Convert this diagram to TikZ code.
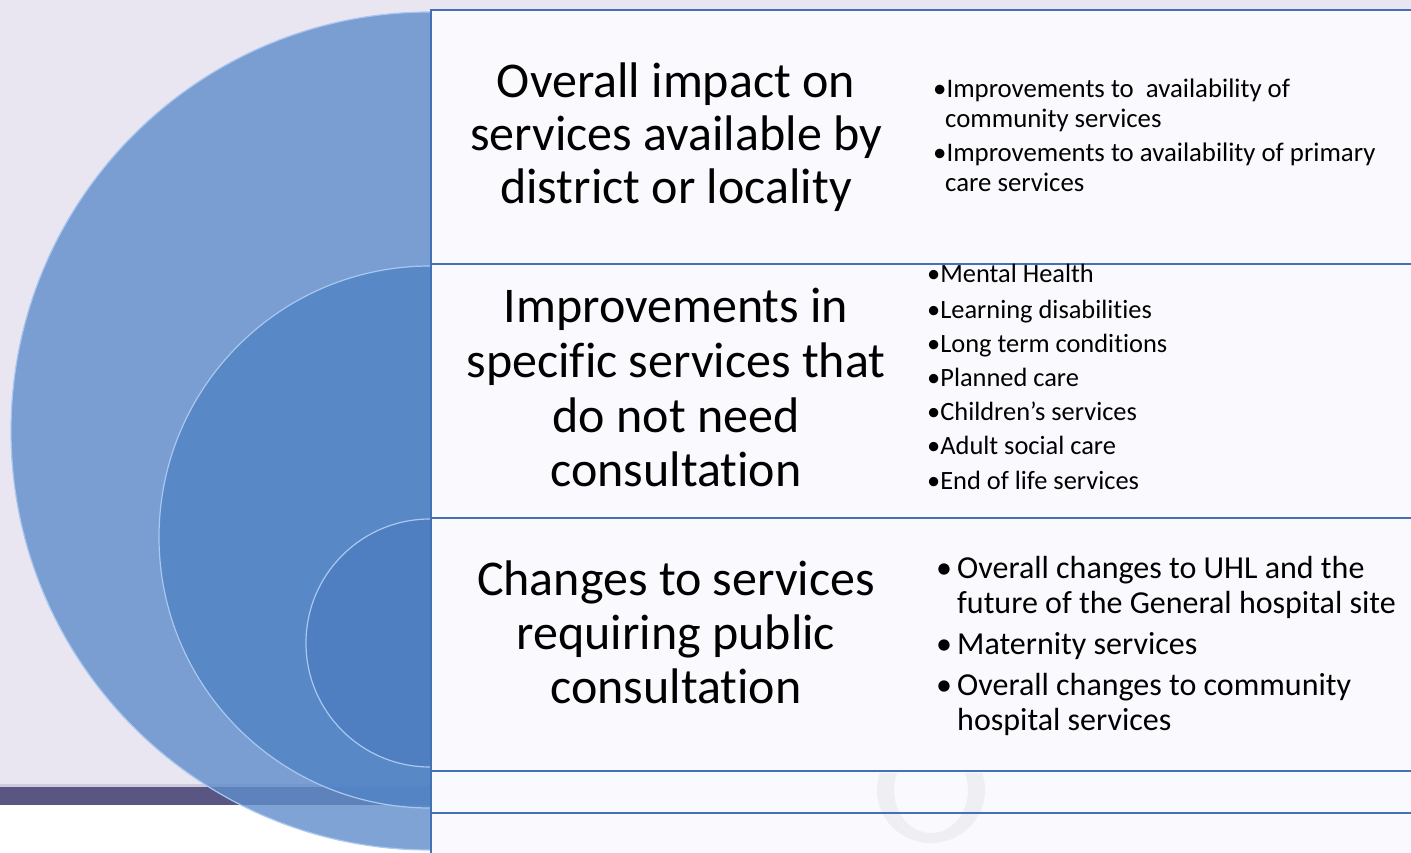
\documentclass[tikz,border=0pt]{standalone}
\usepackage{fontspec}
\setmainfont{Carlito}[Ligatures={NoCommon}]
\definecolor{lav}{HTML}{E9E6F2}
\definecolor{barc}{HTML}{5A5684}
\definecolor{barl}{HTML}{CFCBDD}
\definecolor{c1}{HTML}{5F8DCB}
\definecolor{c1l}{HTML}{95B9F4}
\definecolor{c2}{HTML}{5485C6}
\definecolor{c2l}{HTML}{74A6EE}
\definecolor{c3}{HTML}{4E7EC1}
\definecolor{c3l}{HTML}{6EA2EE}
\definecolor{rim}{HTML}{A9C8F0}
\definecolor{rectb}{HTML}{4470B6}
\definecolor{rectf}{HTML}{FAF9FD}
\definecolor{ringc}{HTML}{EFEEF3}
\pgfdeclarehorizontalshading{edgeA}{100bp}{color(0bp)=(c1); color(96bp)=(c1); color(100bp)=(c1l)}
\pgfdeclarehorizontalshading{edgeB}{100bp}{color(0bp)=(c2); color(96bp)=(c2); color(100bp)=(c2l)}
\pgfdeclarehorizontalshading{edgeC}{100bp}{color(0bp)=(c3); color(93bp)=(c3); color(100bp)=(c3l)}
\tikzset{
  panel/.style={draw=rectb, line width=1.8pt, fill=rectf},
  ttl/.style={inner sep=0pt, anchor=base, font=\fontsize{50}{55}\selectfont},
  bla/.style={inner sep=0pt, anchor=base west, font=\fontsize{26.8}{29}\selectfont},
  blb/.style={inner sep=0pt, anchor=base west, font=\fontsize{26.4}{34}\selectfont},
  blc/.style={inner sep=0pt, anchor=base west, font=\fontsize{32}{35}\selectfont},
}
\begin{document}
\begin{tikzpicture}[x=1pt,y=-1pt]
\useasboundingbox (0,0) rectangle (1411,853);
\clip (0,0) rectangle (1411,853);
% background
\fill[lav] (0,0) rectangle (1411,787);
\fill[barl] (0,784) rectangle (1411,787);
\fill[barc] (0,787) rectangle (1411,805);
\fill[white] (0,805) rectangle (1411,853);
% outer semicircle
\begin{scope}
\clip (430,12) arc[start angle=90, end angle=270, radius=419pt] -- cycle;
\shade[shading=edgeA, opacity=0.8] (0,0) rectangle (431,853);
\end{scope}
\draw[rim, line width=1.2pt] (430,12) arc[start angle=90, end angle=270, radius=419pt];
% middle semicircle
\begin{scope}
\clip (430,266) arc[start angle=90, end angle=270, radius=271pt] -- cycle;
\shade[shading=edgeB, opacity=0.85] (0,0) rectangle (431,853);
\end{scope}
\draw[rim, line width=1.2pt] (430,266) arc[start angle=90, end angle=270, radius=271pt];
% inner semicircle
\begin{scope}
\clip (430,519) arc[start angle=90, end angle=270, radius=124pt] -- cycle;
\shade[shading=edgeC, opacity=0.9] (200,0) rectangle (431,853);
\end{scope}
\draw[rim, line width=1.2pt] (430,519) arc[start angle=90, end angle=270, radius=124pt];
% panels
\draw[panel] (431,10) rectangle (1430,264);
\draw[panel] (431,264) rectangle (1430,518);
\draw[panel] (431,518) rectangle (1430,771);
\draw[panel] (431,771) rectangle (1430,813);
\draw[panel] (431,813) rectangle (1430,880);
% faint ring
\begin{scope}
\clip (432,773) rectangle (1411,853);
\fill[ringc, even odd rule] (931,790) ellipse[x radius=54pt, y radius=53pt]
                            (931,790) ellipse[x radius=37pt, y radius=43pt];
\end{scope}
\draw[rectb, line width=1.8pt] (431,771) -- (1411,771);
\draw[rectb, line width=1.8pt] (431,813) -- (1411,813);
% titles
\node[ttl] (t11) at (676,98) {Overall impact on};
\node[ttl] (t12) at (676,151) {services available by};
\node[ttl] (t13) at (676,204) {district or locality};
\node[ttl] (t21) at (676,322) {Improvements in};
\node[ttl] (t22) at (676,377) {specific services that};
\node[ttl] (t23) at (676,432) {do not need};
\node[ttl] (t24) at (676,486) {consultation};
\node[ttl] (t31) at (676,595) {Changes to services};
\node[ttl] (t32) at (676,649) {requiring public};
\node[ttl] (t33) at (676,703) {consultation};
% bullets panel 1
\node[bla] (a1) at (933,98) {•Improvements to\ \ availability of};
\node[bla] (a2) at (945,128) {community services};
\node[bla] (a3) at (933,162) {•Improvements to availability of primary};
\node[bla] (a4) at (945,192) {care services};
% bullets panel 2
\node[blb] (b1) at (927,283) {•Mental Health};
\node[blb] (b2) at (927,318) {•Learning disabilities};
\node[blb] (b3) at (927,352) {•Long term conditions};
\node[blb] (b4) at (927,386) {•Planned care};
\node[blb] (b5) at (927,420) {•Children’s services};
\node[blb] (b6) at (927,454) {•Adult social care};
\node[blb] (b7) at (927,489) {•End of life services};
% bullets panel 3
\node[blc] (c1b) at (936,578) {•};
\node[blc] (c1t) at (957,578) {Overall changes to UHL and the};
\node[blc] (c2t) at (957,613) {future of the General hospital site};
\node[blc] (c3b) at (936,654) {•};
\node[blc] (c3t) at (957,654) {Maternity services};
\node[blc] (c4b) at (936,695) {•};
\node[blc] (c4t) at (957,695) {Overall changes to community};
\node[blc] (c5t) at (957,730) {hospital services};
\end{tikzpicture}
\end{document}
